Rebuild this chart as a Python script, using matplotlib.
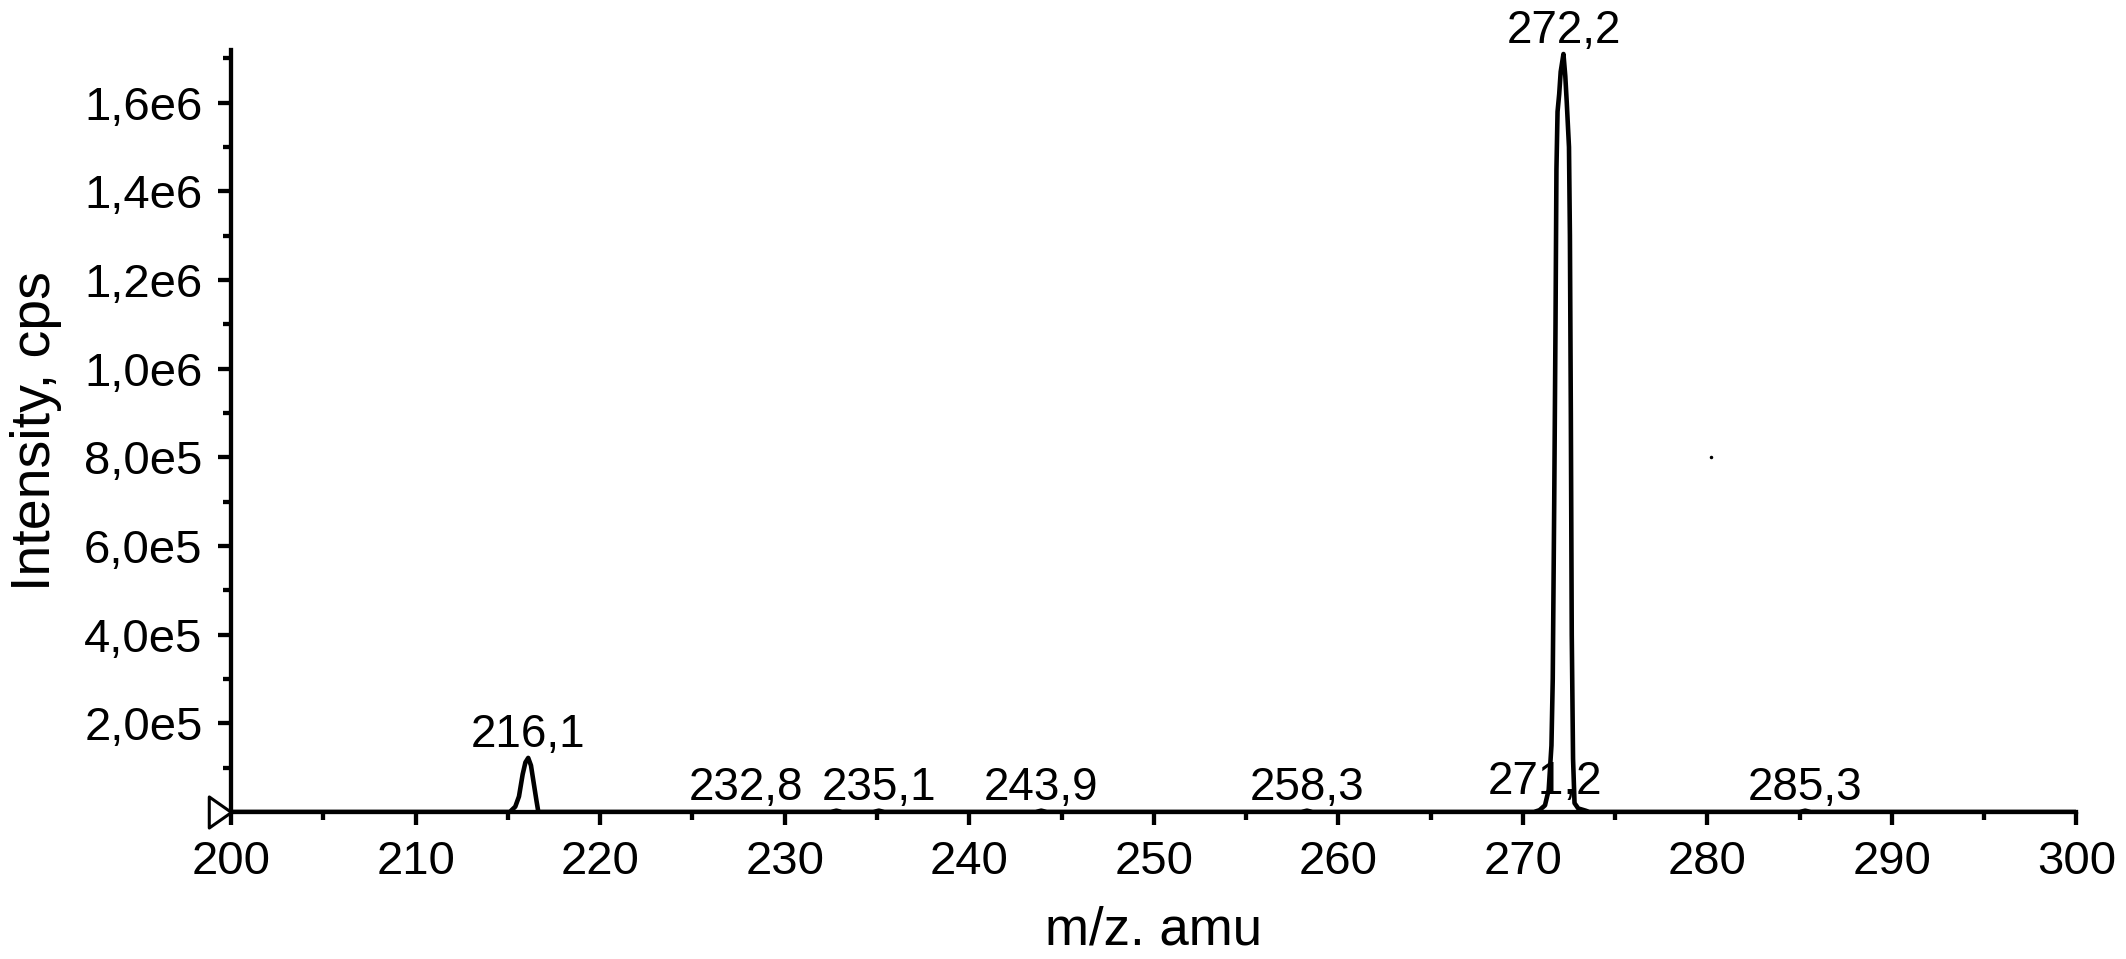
import matplotlib
matplotlib.use('Agg')
import matplotlib.pyplot as plt
from matplotlib.path import Path
from matplotlib.ticker import MultipleLocator

plt.rcParams['font.family'] = ['Liberation Sans', 'DejaVu Sans']

# spectrum trace (m/z, cps)
mz = [200.0, 215.1, 215.4, 215.6, 215.8, 215.95, 216.1, 216.25, 216.4, 216.55, 216.65,
      232.5, 232.8, 233.1, 234.8, 235.1, 235.4, 243.6, 243.9, 244.2, 258.0, 258.3, 258.6,
      270.6, 270.9, 271.2, 271.4, 271.55, 271.62, 271.7, 271.77, 271.82, 271.88, 271.97,
      272.05, 272.2, 272.3, 272.38, 272.5, 272.55, 272.6, 272.65, 272.72, 272.8, 273.0,
      273.4, 273.6, 285.0, 285.3, 285.6, 300.0]
intensity = [0, 0, 1.2e4, 3.5e4, 8.5e4, 1.12e5, 1.22e5, 1.05e5, 6.5e4, 2.5e4, 0,
             0, 3e3, 0, 0, 3e3, 0, 0, 3e3, 0, 0, 3e3, 0,
             0, 4e3, 1.5e4, 5e4, 1.5e5, 3e5, 7e5, 1.1e6, 1.45e6, 1.58e6, 1.62e6,
             1.67e6, 1.71e6, 1.66e6, 1.6e6, 1.5e6, 1.3e6, 9e5, 4e5, 1.2e5, 2e4, 8e3,
             3e3, 0, 0, 3e3, 0, 0]

# labelled peaks
peak_mz = [216.1, 232.8, 235.1, 243.9, 258.3, 271.2, 272.2, 285.3]
peak_height = [1.22e5, 3e3, 3e3, 3e3, 3e3, 1.5e4, 1.71e6, 3e3]
peak_labels = ['216,1', '232,8', '235,1', '243,9', '258,3', '271,2', '272,2', '285,3']

# stray point in the record
stray_mz = [280.2]
stray_int = [8.0e5]

xticks = [200, 210, 220, 230, 240, 250, 260, 270, 280, 290, 300]
yticks = [2e5, 4e5, 6e5, 8e5, 1.0e6, 1.2e6, 1.4e6, 1.6e6]
ytick_labels = ['2,0e5', '4,0e5', '6,0e5', '8,0e5', '1,0e6', '1,2e6', '1,4e6', '1,6e6']

fig = plt.figure(figsize=(21.26, 9.59), dpi=100)
ax = fig.add_axes([0.1087, 0.1533, 0.868, 0.795])

ax.plot(mz, intensity, color='black', lw=3.3)
ax.plot(stray_mz, stray_int, 'k.', ms=3)

# label positions nudged where the software moved them apart
shift = {'232,8': -4.9}
for x, h, s in zip(peak_mz, peak_height, peak_labels):
    ax.annotate(s, (x + shift.get(s, 0), h), xytext=(0, 8), textcoords='offset points',
                ha='center', va='baseline', fontsize=33)

# open triangle at the origin of the intensity axis
tri = Path([(-1, 0.7), (0, 0), (-1, -0.7), (-1, 0.7)],
           [Path.MOVETO, Path.LINETO, Path.LINETO, Path.CLOSEPOLY])
ax.plot([200], [0], marker=tri, ms=32, mfc='white', mec='black', mew=2.2, clip_on=False, zorder=5)

ax.set_xlim(200, 300)
ax.set_ylim(0, 1.72e6)
ax.set_xticks(xticks)
ax.set_yticks(yticks)
ax.set_yticklabels(ytick_labels)
ax.xaxis.set_minor_locator(MultipleLocator(5))
ax.yaxis.set_minor_locator(MultipleLocator(1e5))

for side in ['top', 'right']:
    ax.spines[side].set_visible(False)
for side in ['left', 'bottom']:
    ax.spines[side].set_linewidth(3.1)

ax.tick_params(which='major', length=9.5, width=3.1, labelsize=34, pad=11)
ax.tick_params(which='minor', length=6, width=3.1)

ax.set_xlabel('m/z. amu', fontsize=38, labelpad=15)
ax.set_ylabel('Intensity, cps', fontsize=40, labelpad=16)

plt.savefig('out.png', dpi=100)
